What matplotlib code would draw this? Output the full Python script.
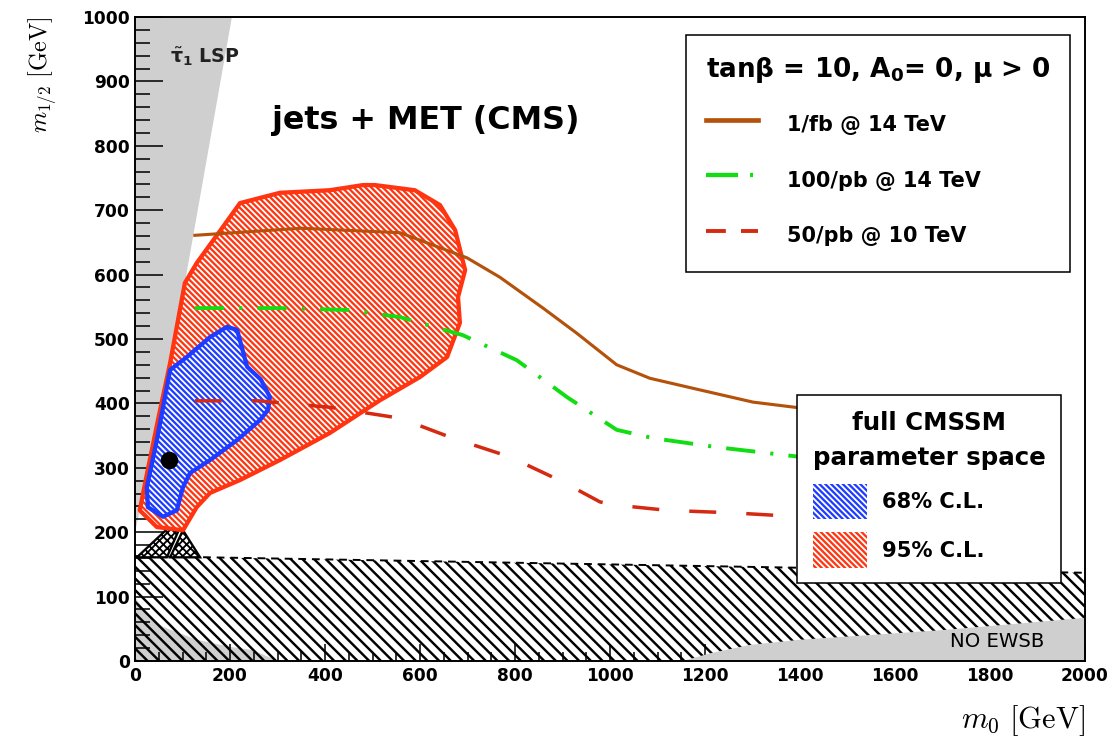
import matplotlib
matplotlib.use("Agg")
import matplotlib.pyplot as plt
from matplotlib.patches import Polygon, Patch
from matplotlib.lines import Line2D
from matplotlib.ticker import MultipleLocator

plt.rcParams["font.family"] = ["DejaVu Sans"]
plt.rcParams["mathtext.fontset"] = "custom"
plt.rcParams["mathtext.rm"] = "DejaVu Sans:bold"
plt.rcParams["mathtext.it"] = "DejaVu Sans:bold"
plt.rcParams["mathtext.bf"] = "DejaVu Sans:bold"
plt.rcParams["hatch.linewidth"] = 0.95

# expected reach of jets + MET searches
brown_m0 = [126, 350, 558, 699, 768, 859, 930, 1014, 1084, 1189, 1301, 1400]
brown_m12 = [661, 672, 665, 626, 596, 548, 509, 460, 439, 421, 402, 393]
green_m0 = [126, 300, 450, 558, 690, 804, 909, 1014, 1091, 1225, 1400]
green_m12 = [548, 548, 545, 534, 506, 467, 410, 359, 346, 332, 317]
red_m0 = [126, 260, 410, 558, 669, 789, 901, 979, 1014, 1120, 1259, 1400]
red_m12 = [404, 404, 394, 377, 346, 317, 278, 247, 242, 234, 230, 224]

# CMSSM fit contours
cl95_m0 = [105, 130, 185, 221, 305, 410, 480, 505, 589, 642, 674, 695, 680, 684,
           657, 600, 516, 410, 305, 221, 158, 130, 101, 46, 10, 25, 50, 74]
cl95_m12 = [587, 618, 674, 711, 727, 731, 739, 739, 731, 708, 669, 607, 565, 525,
            472, 441, 405, 354, 312, 281, 261, 239, 203, 208, 234, 290, 380, 463]
cl68_m0 = [194, 215, 236, 265, 284, 280, 263, 215, 158, 116, 101, 88, 59, 27, 25, 46,
           59, 74, 109, 158]
cl68_m12 = [519, 514, 457, 437, 410, 390, 374, 343, 312, 292, 270, 234, 224, 239, 270,
            343, 394, 452, 472, 503]
best_fit = (72, 312)

# excluded regions
stau_m0 = [0, 204, 105, 40, 0]
stau_m12 = [1000, 1000, 587, 330, 200]
low_m0 = [0, 0, 25, 59, 130, 200, 248, 300]
low_m12 = [0, 99, 74, 53, 33, 22, 17, 0]
ewsb_m0 = [1154, 1211, 1295, 1400, 1700, 2000, 2000]
ewsb_m12 = [0, 12, 25, 33, 48, 67, 0]
lep_m0 = [0, 0, 2000, 2000]
lep_m12 = [0, 163, 137, 0]
dia1_m0 = [4, 88, 95, 67]
dia1_m12 = [161, 219, 208, 161]
dia2_m0 = [74, 101, 137]
dia2_m12 = [161, 203, 161]

c_brown = "#b4520c"
c_green = "#12dd12"
c_reddash = "#d42a12"
c_red = "#ff3410"
c_blue = "#1e3cff"
c_grey = "#cfcfcf"
stripes = "\\" * 8

fig = plt.figure(figsize=(1114 / 140, 743 / 140), dpi=140)
ax = fig.add_axes([135 / 1114, 82 / 743, 950 / 1114, 644 / 743])


def region(xs, ys, face, hatch_col=None, hatch=None, edge=None, lw=0, z=1):
    pts = list(zip(xs, ys))
    ax.add_patch(Polygon(pts, closed=True, facecolor=face, edgecolor="none", zorder=z))
    if hatch:
        ax.add_patch(Polygon(pts, closed=True, facecolor="none", edgecolor=hatch_col,
                             hatch=hatch, linewidth=0, zorder=z))
    if edge:
        ax.add_patch(Polygon(pts, closed=True, facecolor="none", edgecolor=edge,
                             linewidth=lw, joinstyle="round", zorder=z))


region(stau_m0, stau_m12, c_grey, z=1)
region(low_m0, low_m12, c_grey, z=1)
lep = Polygon(list(zip(lep_m0, lep_m12)), closed=True, facecolor="none",
              edgecolor="black", hatch="\\" * 4, linewidth=0, zorder=2)
if hasattr(lep, "set_hatch_linewidth"):
    lep.set_hatch_linewidth(1.25)
ax.add_patch(lep)
ax.plot(lep_m0[1:3], lep_m12[1:3], color="black", lw=1.0, ls=(0, (4, 3)), zorder=2)
region(ewsb_m0, ewsb_m12, c_grey, z=2.5)
for dx, dy in [(dia1_m0, dia1_m12), (dia2_m0, dia2_m12)]:
    ax.add_patch(Polygon(list(zip(dx, dy)), closed=True, facecolor="white",
                         edgecolor="black", hatch="xxxxxx", linewidth=1.2, zorder=2.6))

region(cl95_m0, cl95_m12, c_red, "white", stripes, c_red, 2.2, z=3)
region(cl68_m0, cl68_m12, c_blue, "white", stripes, c_blue, 2.2, z=4)
ax.plot(*best_fit, "o", color="black", ms=8, zorder=5)

ax.plot(brown_m0, brown_m12, color=c_brown, lw=1.6, zorder=6)
ax.plot(green_m0, green_m12, color=c_green, lw=2.0, zorder=6,
        dashes=(7.5, 3.9, 0.8, 3.9), solid_capstyle="butt")
ax.plot(red_m0, red_m12, color=c_reddash, lw=1.8, zorder=6, dashes=(7.7, 8.6))

ax.text(288, 840, "jets + MET (CMS)", fontsize=16.3, fontweight="bold", va="center")
ax.text(74, 938, r"$\tilde{\tau}_1$ LSP", fontsize=9.8, fontweight="bold", va="center",
        color="#222222", zorder=7)
ax.text(1716, 31, "NO EWSB", fontsize=10.2, va="center", zorder=7)

h1 = Line2D([], [], color=c_brown, lw=2.4)
h2 = Line2D([], [], color=c_green, lw=2.2, dashes=(7.5, 2.8, 0.7, 2.8))
h3 = Line2D([], [], color=c_reddash, lw=2.0, dashes=(5.1, 3.9))
leg1 = ax.legend([h1, h2, h3], ["1/fb @ 14 TeV", "100/pb @ 14 TeV", "50/pb @ 10 TeV"],
                 title=r"tan$\beta$ = 10, A$_0$= 0, $\mu$ > 0",
                 title_fontproperties={"size": 13.5, "weight": "bold"},
                 prop={"size": 10.7, "weight": "bold"},
                 loc="upper left", bbox_to_anchor=(0.58, 0.972), borderaxespad=0,
                 fancybox=False, framealpha=1, edgecolor="black", alignment="left",
                 borderpad=0.95, handlelength=2.5, handleheight=2.0, labelspacing=1.13,
                 handletextpad=1.4)
leg1.get_frame().set_linewidth(0.8)
leg1.set_zorder(10)
ax.add_artist(leg1)

p68 = Patch(facecolor=c_blue, edgecolor="white", hatch=stripes, linewidth=0)
p95 = Patch(facecolor=c_red, edgecolor="white", hatch=stripes, linewidth=0)
leg2 = ax.legend([p68, p95], ["68% C.L.", "95% C.L."],
                 title="full CMSSM\nparameter space",
                 title_fontproperties={"size": 12.6, "weight": "bold"},
                 prop={"size": 10.8, "weight": "bold"},
                 loc="upper left", bbox_to_anchor=((797 - 135) / 950, (661 - 395) / 644),
                 borderaxespad=0, fancybox=False, framealpha=1, edgecolor="black",
                 alignment="left", borderpad=0.75, handlelength=2.57, handleheight=2.19,
                 labelspacing=0.65, handletextpad=0.71)
leg2.get_title().set_multialignment("center")
leg2.get_title().set_linespacing(1.6)
leg2.get_frame().set_linewidth(0.8)
leg2.set_zorder(10)

ax.set_xlim(0, 2000)
ax.set_ylim(0, 1000)
ax.xaxis.set_major_locator(MultipleLocator(200))
ax.xaxis.set_minor_locator(MultipleLocator(50))
ax.yaxis.set_major_locator(MultipleLocator(100))
ax.yaxis.set_minor_locator(MultipleLocator(20))
ax.tick_params(which="both", direction="in", top=False, right=False, width=0.8)
ax.tick_params(axis="y", which="major", length=14.4, pad=2.6)
ax.tick_params(axis="y", which="minor", length=7.7)
ax.tick_params(axis="x", which="major", length=8.7, pad=3)
ax.tick_params(axis="x", which="minor", length=4.6)
for lab in ax.get_xticklabels() + ax.get_yticklabels():
    lab.set_fontsize(8.75)
    lab.set_fontweight("bold")
for sp in ax.spines.values():
    sp.set_linewidth(1.0)
    sp.set_zorder(11)

ax.set_ylabel(r"$m_{1/2}\ [\mathrm{GeV}]$", fontsize=12.5, loc="top",
              math_fontfamily="cm")
ax.yaxis.set_label_coords(-0.08, 1.0)
ax.set_xlabel(r"$m_0\ [\mathrm{GeV}]$", fontsize=15.7, loc="right", math_fontfamily="cm")
ax.xaxis.set_label_coords(1.0, -0.065)

fig.savefig("out.png", dpi=140)
